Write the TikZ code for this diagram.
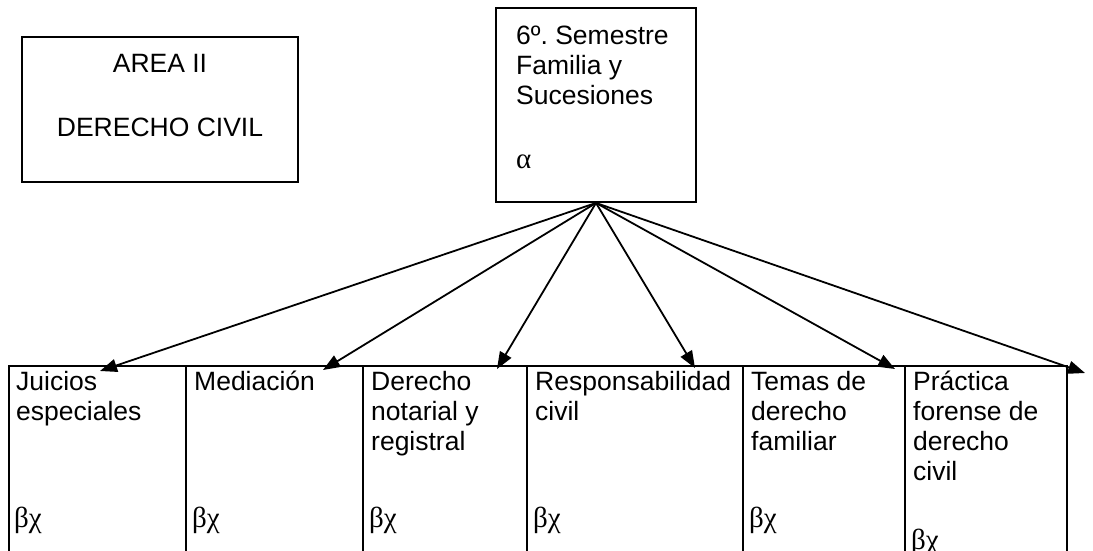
\documentclass[tikz,border=0pt]{standalone}
\usepackage{fontspec}
\setmainfont{Liberation Sans}
\newfontfamily\grk{Liberation Serif}
\usetikzlibrary{arrows.meta}
\frenchspacing
\begin{document}
\begin{tikzpicture}[x=1pt,y=-1pt,
  box/.style={draw,line width=1.9pt,inner sep=0pt},
  txt/.style={anchor=base west,inner sep=0pt,font=\fontsize{26.5}{30}\selectfont},
  ctxt/.style={anchor=base,inner sep=0pt,font=\fontsize{26.5}{30}\selectfont},
  gtxt/.style={anchor=base west,inner sep=0pt,font=\fontsize{29}{30}\selectfont\grk},
  arr/.style={line width=1.8pt,-{Triangle[length=17pt,width=13pt]}}]
\useasboundingbox (0,0) rectangle (1093,551);
\clip (0,0) rectangle (1093,551);
% Area box
\node[box,minimum width=276pt,minimum height=145pt] (area) at (160,109.5) {};
\node[ctxt] (areaT1) at (160,73) {AREA II};
\node[ctxt] (areaT2) at (160,136) {DERECHO CIVIL};
% Semester box
\node[box,minimum width=200pt,minimum height=194pt] (sem) at (596,105) {};
\node[txt] (semT) at (516,45) {\begin{tabular}[t]{@{}l@{}}6º.\ Semestre\\Familia y\\Sucesiones\end{tabular}};
\node[gtxt] (semA) at (516,168) {α};
% Table cells
\node[box,minimum width=177pt,minimum height=200pt,anchor=north west] (c1) at (8,365) {};
\node[box,minimum width=177pt,minimum height=200pt,anchor=north west] (c2) at (185,365) {};
\node[box,minimum width=164pt,minimum height=200pt,anchor=north west] (c3) at (362,365) {};
\node[box,minimum width=216pt,minimum height=200pt,anchor=north west] (c4) at (526,365) {};
\node[box,minimum width=162pt,minimum height=200pt,anchor=north west] (c5) at (742,365) {};
\node[box,minimum width=162pt,minimum height=200pt,anchor=north west] (c6) at (904,365) {};
% Cell texts
\node[txt] (t1) at (16,390) {\begin{tabular}[t]{@{}l@{}}Juicios\\especiales\end{tabular}};
\node[txt] (t2) at (194,390) {Mediación};
\node[txt] (t3) at (371,390) {\begin{tabular}[t]{@{}l@{}}Derecho\\notarial y\\registral\end{tabular}};
\node[txt] (t4) at (535,390) {\begin{tabular}[t]{@{}l@{}}Responsabilidad\\civil\end{tabular}};
\node[txt] (t5) at (751,390) {\begin{tabular}[t]{@{}l@{}}Temas de\\derecho\\familiar\end{tabular}};
\node[txt] (t6) at (913,390) {\begin{tabular}[t]{@{}l@{}}Práctica\\forense de\\derecho\\civil\end{tabular}};
\node[gtxt] (g1) at (14,527) {βχ};
\node[gtxt] (g2) at (192,527) {βχ};
\node[gtxt] (g3) at (369,527) {βχ};
\node[gtxt] (g4) at (533,527) {βχ};
\node[gtxt] (g5) at (749,527) {βχ};
\node[gtxt] (g6) at (911,549) {βχ};
% Arrow targets
\coordinate (e1) at (100,371);
\coordinate (e2) at (323,370);
\coordinate (e3) at (497,369);
\coordinate (e4) at (695,368);
\coordinate (e5) at (895,369);
\coordinate (e6) at (1085,373);
\foreach \i in {1,...,6} \draw[arr] (sem.south) -- (e\i);
\end{tikzpicture}
\end{document}
